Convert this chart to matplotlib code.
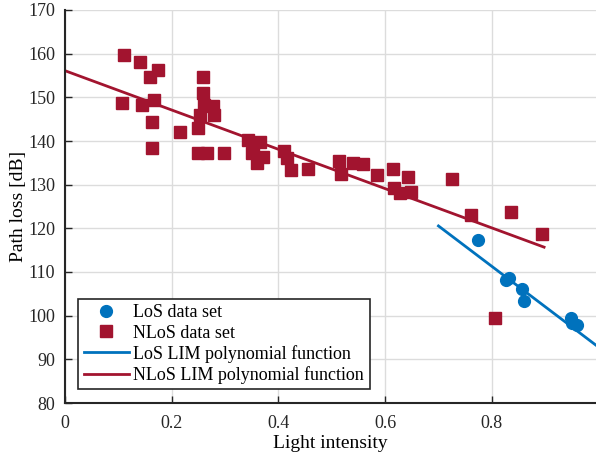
import numpy as np
import matplotlib
matplotlib.use("Agg")
import matplotlib.pyplot as plt

plt.rcParams['font.family'] = ['Liberation Serif', 'DejaVu Serif']

# LoS measurements
los_x = [0.775, 0.827, 0.832, 0.856, 0.861, 0.948, 0.950, 0.959]
los_y = [117.3, 108.2, 108.6, 106.1, 103.4, 99.4, 98.3, 97.9]

# NLoS measurements
nlos_x = [0.111, 0.141, 0.175, 0.159, 0.258, 0.107, 0.144, 0.167, 0.259, 0.261,
          0.278, 0.279, 0.253, 0.164, 0.216, 0.250, 0.163, 0.249, 0.266, 0.298,
          0.343, 0.366, 0.350, 0.352, 0.372, 0.359, 0.411, 0.416, 0.424, 0.456,
          0.514, 0.540, 0.558, 0.517, 0.584, 0.614, 0.642, 0.617, 0.628, 0.648,
          0.725, 0.761, 0.836, 0.895, 0.806]
nlos_y = [159.8, 158.1, 156.3, 154.6, 154.6, 148.6, 148.2, 149.4, 150.9, 148.2,
          148.1, 146.0, 146.0, 144.4, 142.1, 143.0, 138.3, 137.3, 137.3, 137.3,
          140.2, 139.8, 137.2, 138.7, 136.4, 134.9, 137.6, 136.0, 133.4, 133.5,
          135.5, 135.0, 134.7, 132.4, 132.1, 133.6, 131.8, 129.2, 128.2, 128.3,
          131.2, 123.1, 123.7, 118.6, 99.5]

# fitted LIM models (slope, intercept) and their x ranges
los_coef = [-92.5, 185.3]
nlos_coef = [-45.0, 156.1]
los_range = [0.70, 1.0]
nlos_range = [0.0, 0.898]

blue = '#0072BD'
red = '#A2142F'

fig = plt.figure(figsize=(5.96, 4.57), dpi=100)
ax = fig.add_axes([65/596, 1 - 403/457, 1 - 65/596, 393/457])

ax.plot(los_x, los_y, 'o', color=blue, ms=8.5, label='LoS data set', zorder=3)
ax.plot(nlos_x, nlos_y, 's', color=red, ms=8, label='NLoS data set', zorder=3)

xl = np.linspace(*los_range, 50)
ax.plot(xl, np.polyval(los_coef, xl), color=blue, lw=2,
        label='LoS LIM polynomial function')
xn = np.linspace(*nlos_range, 50)
ax.plot(xn, np.polyval(nlos_coef, xn), color=red, lw=2,
        label='NLoS LIM polynomial function')

ax.set_xlim(0, 531/533.5)
ax.set_ylim(80, 170)
ax.set_xticks([0, 0.2, 0.4, 0.6, 0.8])
ax.set_xticklabels(['0', '0.2', '0.4', '0.6', '0.8'])
ax.set_yticks(range(80, 171, 10))
ax.grid(True, color='#dcdcdc', lw=1)
ax.set_axisbelow(True)
ax.tick_params(direction='in', labelsize=13, length=5, width=1, colors='#262626')
ax.tick_params(axis='x', pad=9)
ax.tick_params(axis='y', pad=7)
for s in ['top', 'right']:
    ax.spines[s].set_visible(False)
for s in ['left', 'bottom']:
    ax.spines[s].set_linewidth(1.5)
    ax.spines[s].set_color('#262626')

ax.set_xlabel('Light intensity', fontsize=14, labelpad=2)
ax.set_ylabel('Path loss [dB]', fontsize=14, labelpad=1)

leg = ax.legend(loc='lower left', bbox_to_anchor=(0.025, 0.035), borderaxespad=0,
                fontsize=13, fancybox=False, framealpha=1, edgecolor='#262626',
                borderpad=0.3, handlelength=2.5, labelspacing=0.18,
                handletextpad=0.25)
leg.get_frame().set_linewidth(1.2)

fig.savefig('out.png', dpi=100)
